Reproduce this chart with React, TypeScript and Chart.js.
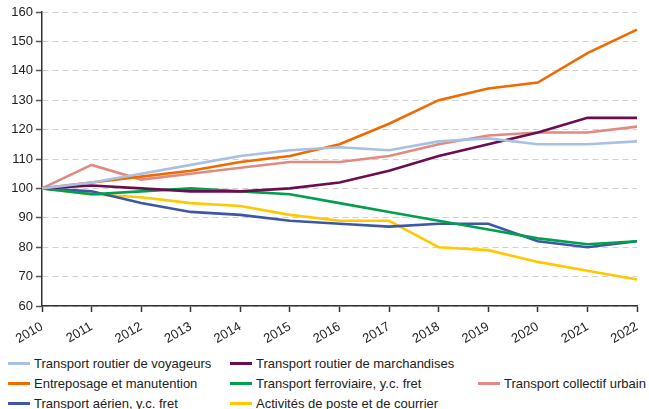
import React, { useEffect, useRef } from "react";
import { Chart, registerables } from "chart.js";

Chart.register(...registerables);

const years = ["2010","2011","2012","2013","2014","2015","2016","2017","2018","2019","2020","2021","2022"];
const yTicks = [60, 70, 80, 90, 100, 110, 120, 130, 140, 150, 160];

const voyageurs = [100, 102, 105, 108, 111, 113, 114, 113, 116, 117, 115, 115, 116];
const marchandises = [100, 101, 100, 99, 99, 100, 102, 106, 111, 115, 119, 124, 124];
const entreposage = [100, 102, 104, 106, 109, 111, 115, 122, 130, 134, 136, 146, 154];
const ferroviaire = [100, 98, 99, 100, 99, 98, 95, 92, 89, 86, 83, 81, 82];
const collectif = [100, 108, 103, 105, 107, 109, 109, 111, 115, 118, 119, 119, 121];
const aerien = [100, 99, 95, 92, 91, 89, 88, 87, 88, 88, 82, 80, 82];
const poste = [100, 98, 97, 95, 94, 91, 89, 89, 80, 79, 75, 72, 69];

const seriesNames = [
  "Transport routier de voyageurs",
  "Transport routier de marchandises",
  "Entreposage et manutention",
  "Transport ferroviaire, y.c. fret",
  "Transport collectif urbain",
  "Transport aérien, y.c. fret",
  "Activités de poste et de courrier",
];
const seriesColors = ["#a7c0e4", "#6b0e4f", "#f06a00", "#00a04f", "#e08a80", "#3d57a6", "#ffc800"];
const seriesData = [voyageurs, marchandises, entreposage, ferroviaire, collectif, aerien, poste];

// legend layout: [seriesIndex, left, top]
const legendItems: [number, number, number][] = [
  [0, 8, 363],
  [1, 230, 363],
  [2, 8, 383],
  [3, 230, 383],
  [4, 478, 383],
  [5, 8, 403],
  [6, 230, 403],
];

const FONT = "'Liberation Sans', Arial, sans-serif";

export default function App() {
  const ref = useRef<HTMLCanvasElement | null>(null);

  useEffect(() => {
    if (!ref.current) return;
    const chart = new Chart(ref.current, {
      type: "line",
      data: {
        labels: years,
        datasets: seriesData.map((d, i) => ({
          label: seriesNames[i],
          data: d,
          borderColor: seriesColors[i],
          backgroundColor: seriesColors[i],
          borderWidth: 2.6,
          pointRadius: 0,
          tension: 0,
          fill: false,
        })),
      },
      options: {
        animation: false,
        responsive: false,
        maintainAspectRatio: false,
        layout: { padding: { left: 0, right: 12, top: 12, bottom: 0 } },
        plugins: { legend: { display: false }, tooltip: { enabled: false } },
        scales: {
          x: {
            offset: false,
            ticks: {
              color: "#222",
              font: { family: FONT, size: 13 },
              maxRotation: 30,
              minRotation: 30,
              padding: 7,
              autoSkip: false,
            },
            grid: {
              display: true,
              drawOnChartArea: false,
              drawTicks: true,
              tickLength: 6,
              tickColor: "#333",
              tickWidth: 1.5,
            },
            border: { display: true, color: "#333", width: 1.5 },
            afterFit: (scale: any) => {
              scale.height = 39;
              scale.paddingLeft = 0;
              scale.paddingRight = 0;
            },
          },
          y: {
            min: 60,
            max: 160,
            afterBuildTicks: (scale: any) => {
              scale.ticks = yTicks.map((v) => ({ value: v }));
            },
            ticks: {
              color: "#222",
              font: { family: FONT, size: 13 },
              padding: 3,
            },
            grid: {
              color: "#d0d0d0",
              lineWidth: 1,
              drawTicks: true,
              tickLength: 6,
              tickColor: "#555",
              tickWidth: 1.5,
              tickBorderDash: [],
            },
            border: { display: true, color: "#333", width: 1.5, dash: [6, 4] },
            afterFit: (scale: any) => {
              scale.width = 42;
              scale.paddingTop = 0;
              scale.paddingBottom = 0;
            },
          },
        },
      },
    });
    return () => chart.destroy();
  }, []);

  return (
    <div style={{ position: "absolute", left: 0, top: 0, width: 649, height: 409, background: "#fff", overflow: "hidden", fontFamily: FONT }}>
      <canvas ref={ref} width={649} height={345} style={{ position: "absolute", left: 0, top: 0, width: 649, height: 345 }} />
      {legendItems.map(([si, left, top]) => (
        <div key={si} style={{ position: "absolute", left, top: top - 9, height: 18, display: "flex", alignItems: "center", whiteSpace: "nowrap" }}>
          <span style={{ display: "inline-block", width: 22, height: 3, background: seriesColors[si], marginRight: 4 }} />
          <span style={{ fontSize: 13, color: "#222" }}>{seriesNames[si]}</span>
        </div>
      ))}
    </div>
  );
}
